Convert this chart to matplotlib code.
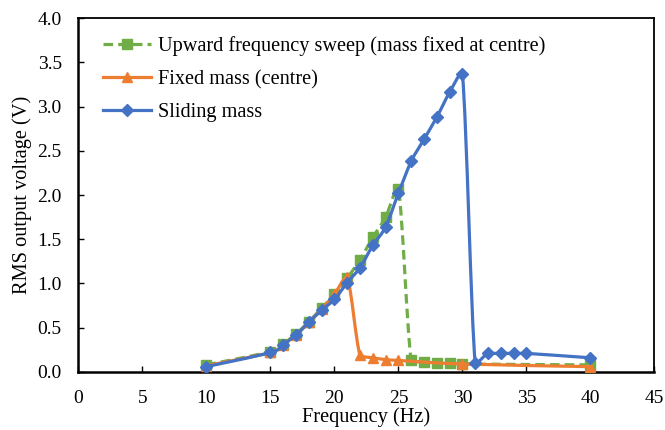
import matplotlib
matplotlib.use("Agg")
import matplotlib.pyplot as plt
from matplotlib.path import Path
from matplotlib.patches import PathPatch
from matplotlib.lines import Line2D

plt.rcParams['font.family'] = ['Liberation Serif', 'DejaVu Serif']

freq_sweep = [10, 15, 16, 17, 18, 19, 20, 21, 22, 23, 24, 25, 26, 27, 28, 29, 30, 40]
v_sweep = [0.08, 0.23, 0.32, 0.43, 0.57, 0.72, 0.88, 1.06, 1.27, 1.52, 1.75, 2.07,
           0.13, 0.11, 0.10, 0.10, 0.09, 0.08]

freq_fixed = [10, 15, 16, 17, 18, 19, 20, 21, 22, 23, 24, 25, 30, 40]
v_fixed = [0.07, 0.22, 0.31, 0.42, 0.56, 0.71, 0.88, 1.07, 0.19, 0.16, 0.14, 0.13, 0.09, 0.06]

freq_slide = [10, 15, 16, 17, 18, 19, 20, 21, 22, 23, 24, 25, 26, 27, 28, 29, 30,
              31, 32, 33, 34, 35, 40]
v_slide = [0.06, 0.22, 0.31, 0.42, 0.56, 0.70, 0.82, 1.01, 1.18, 1.43, 1.64, 2.02,
           2.38, 2.63, 2.88, 3.16, 3.37, 0.10, 0.21, 0.21, 0.21, 0.21, 0.16]

labels = ["Upward frequency sweep (mass fixed at centre)", "Fixed mass (centre)", "Sliding mass"]
xticks = list(range(0, 50, 5))
yticks = [i * 0.5 for i in range(9)]


def _clamp(v, a, b):
    lo, hi = min(a, b), max(a, b)
    return min(max(v, lo), hi)


def smooth_path(xs, ys):
    """Smoothed line: cubic Bezier segments through every data point (no overshoot)."""
    n = len(xs)
    verts = [(xs[0], ys[0])]
    codes = [Path.MOVETO]
    for i in range(n - 1):
        x0, y0 = xs[max(i - 1, 0)], ys[max(i - 1, 0)]
        x1, y1 = xs[i], ys[i]
        x2, y2 = xs[i + 1], ys[i + 1]
        x3, y3 = xs[min(i + 2, n - 1)], ys[min(i + 2, n - 1)]
        c1 = (_clamp(x1 + (x2 - x0) / 6.0, x1, x2), _clamp(y1 + (y2 - y0) / 6.0, y1, y2))
        c2 = (_clamp(x2 - (x3 - x1) / 6.0, x1, x2), _clamp(y2 - (y3 - y1) / 6.0, y1, y2))
        verts += [c1, c2, (x2, y2)]
        codes += [Path.CURVE4, Path.CURVE4, Path.CURVE4]
    return Path(verts, codes)


fig = plt.figure(figsize=(6.65, 4.30), dpi=100)
ax = fig.add_axes([0.118, 0.135, 0.866, 0.823])

series = [
    (freq_sweep, v_sweep, "#70AD47", (0, (3, 1.6)), "s", 7.0, 3),
    (freq_fixed, v_fixed, "#ED7D31", "-", "^", 7.5, 4),
    (freq_slide, v_slide, "#4472C4", "-", "D", 6.0, 5),
]
handles = []
for (xs, ys, col, ls, mk, ms, z), lab in zip(series, labels):
    ax.add_patch(PathPatch(smooth_path(xs, ys), fill=False, edgecolor=col, lw=2.3,
                           ls=ls, zorder=z, capstyle="butt", joinstyle="round"))
    ax.plot(xs, ys, ls="none", marker=mk, ms=ms, color=col, zorder=z)
    handles.append(Line2D([], [], color=col, lw=2.3, ls=ls, marker=mk, ms=ms))

ax.set_xlim(0, 45)
ax.set_ylim(0, 4.0)
ax.set_xticks(xticks)
ax.set_xticklabels([str(t) for t in xticks])
ax.set_yticks(yticks)
ax.set_yticklabels([f"{t:.1f}" for t in yticks])
ax.tick_params(direction="in", length=4, width=1, labelsize=14, colors="black")
ax.tick_params(axis="x", pad=13)
ax.tick_params(axis="y", pad=12)
for s in ["left", "bottom"]:
    ax.spines[s].set_linewidth(1.8)
for s in ["top", "right"]:
    ax.spines[s].set_linewidth(1.3)
for s in ax.spines.values():
    s.set_color("black")

ax.set_xlabel("Frequency (Hz)", fontsize=14.7, labelpad=0)
ax.set_ylabel("RMS output voltage (V)", fontsize=14.7, labelpad=4)

ax.legend(handles, labels, loc="upper left", bbox_to_anchor=(0.007, 1.006), frameon=False,
          fontsize=14.6, handlelength=2.4, labelspacing=0.68, borderaxespad=0.4,
          handletextpad=0.3, borderpad=0.6)

fig.savefig("out.png", dpi=100)
